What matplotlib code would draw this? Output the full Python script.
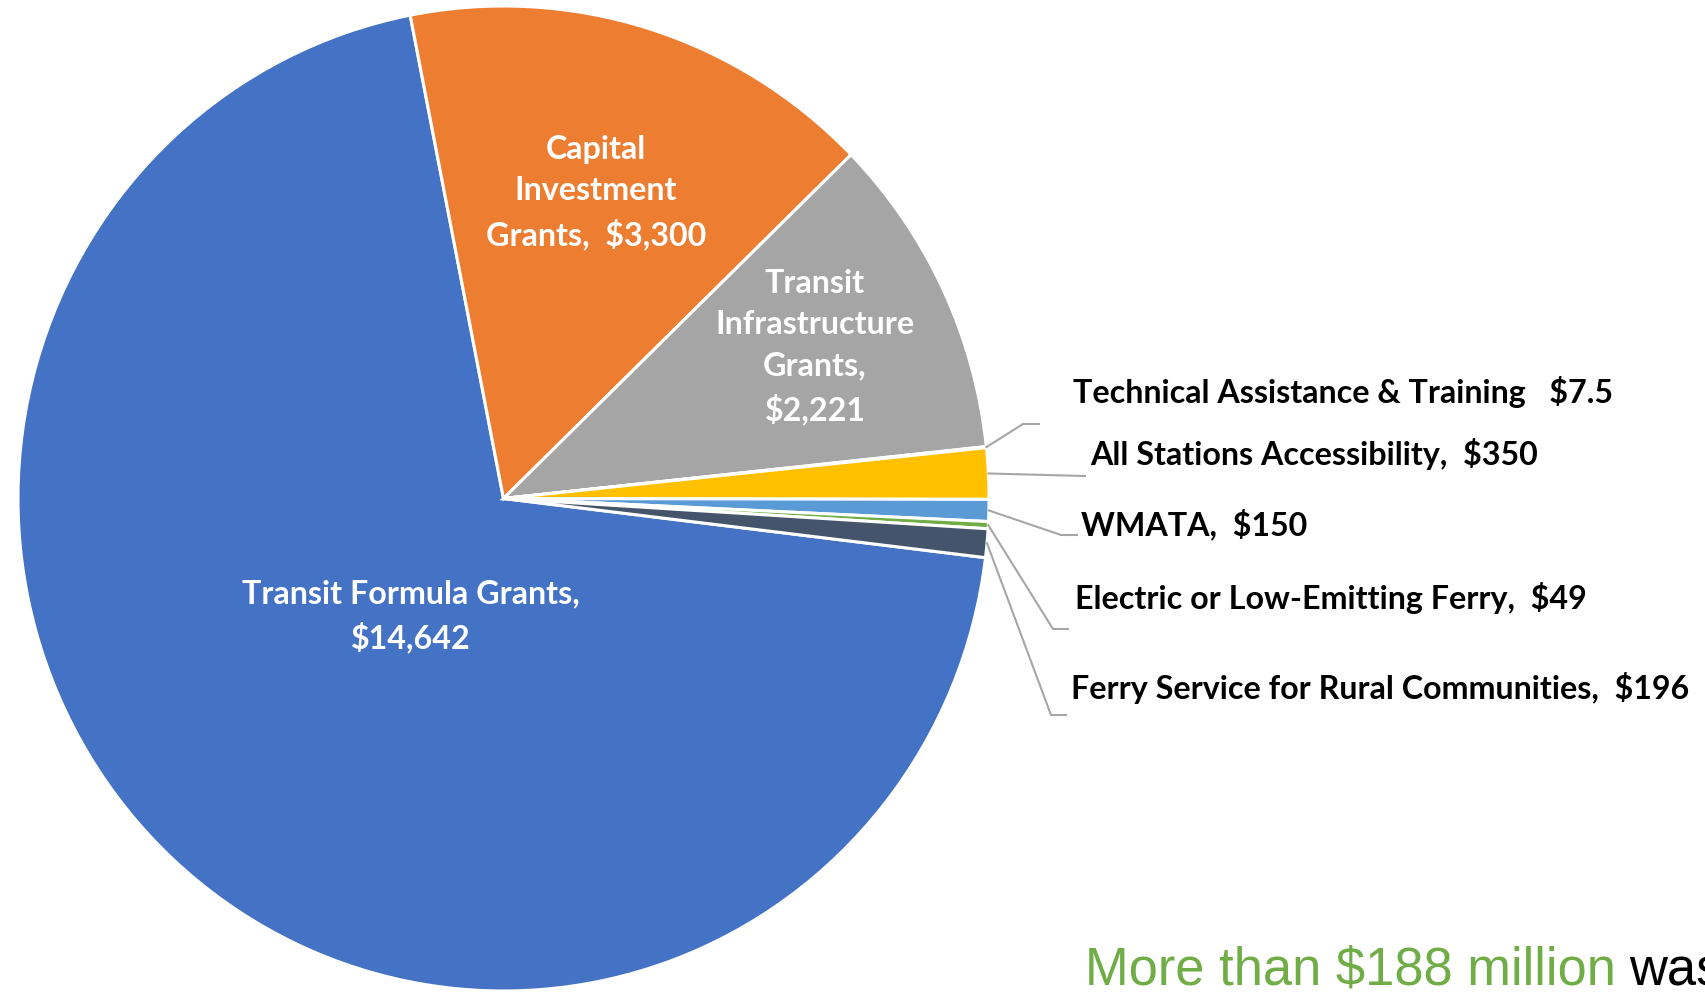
import numpy as np
import matplotlib
matplotlib.use("Agg")
import matplotlib.pyplot as plt
from matplotlib.lines import Line2D

# -------------------- data --------------------
categories = ["Transit Formula Grants", "Capital Investment Grants", "Transit Infrastructure Grants",
              "Technical Assistance & Training", "All Stations Accessibility", "WMATA",
              "Electric or Low-Emitting Ferry", "Ferry Service for Rural Communities"]
values = [14642, 3300, 2221, 7.5, 350, 150, 49, 196]  # $ millions
colors = ["#4472C4", "#ED7D31", "#A5A5A5", "#FFC000", "#FFC000", "#5B9BD5", "#70AD47", "#44546A"]

inside_labels = {
    0: "Transit Formula Grants,\n$14,642",
    1: "Capital\nInvestment\nGrants,  $3,300",
    2: "Transit\nInfrastructure\nGrants,\n$2,221",
}
outside_labels = {
    3: "Technical Assistance & Training   $7.5",
    4: "All Stations Accessibility,  $350",
    5: "WMATA,  $150",
    6: "Electric or Low-Emitting Ferry,  $49",
    7: "Ferry Service for Rural Communities,  $196",
}

# -------------------- layout (pixels from top-left) --------------------
W, H = 1706, 993
inside_pos = {0: (411, 616), 1: (596, 193), 2: (815, 347)}
outside_pos = {3: (1073, 392), 4: (1090, 454), 5: (1081, 524), 6: (1075, 598), 7: (1071, 688)}
leader_bend = {3: [(1023, 424), (1039, 424)], 4: [(1085, 476)], 5: [(1061, 535), (1077, 535)],
               6: [(1053, 629), (1068, 629)], 7: [(1051, 715), (1066, 715)]}

label_font = ["Lato", "DejaVu Sans"]
label_size = 23.2


def fig_frac(x, y):
    return x / W, 1 - y / H


fig = plt.figure(figsize=(W / 100, H / 100), dpi=100)
# pie bounding box in pixels: x 18..989, y 6..991
ax = fig.add_axes([18 / W, (H - 991) / H, 971 / W, 985 / H])
wedges, _ = ax.pie(values, colors=colors, startangle=353.1, counterclock=False,
                   wedgeprops=dict(edgecolor="white", linewidth=2.2))
ax.set_aspect("auto")
ax.set_xlim(-1, 1)
ax.set_ylim(-1, 1)
ax.axis("off")

for i, txt in inside_labels.items():
    x, y = fig_frac(*inside_pos[i])
    fig.text(x, y, txt, color="white", fontsize=label_size, fontweight="bold", family=label_font,
             ha="center", va="center", linespacing=1.5, multialignment="center")

fig.canvas.draw()
inv = fig.transFigure.inverted()
for i, txt in outside_labels.items():
    w = wedges[i]
    mid = np.deg2rad((w.theta1 + w.theta2) / 2)
    sx, sy = inv.transform(ax.transData.transform((np.cos(mid), np.sin(mid))))
    pts = [(sx, sy)] + [fig_frac(*p) for p in leader_bend[i]]
    xs, ys = zip(*pts)
    fig.add_artist(Line2D(xs, ys, transform=fig.transFigure, color="#A6A6A6", linewidth=1.5))
    x, y = fig_frac(*outside_pos[i])
    fig.text(x, y, txt, color="black", fontsize=label_size, fontweight="bold", family=label_font,
             ha="left", va="center")

# footer text, cut at the right edge like the slide
x, y = fig_frac(1085, 985)
fig.text(x, y, "More than $188 million", color="#70AD47", fontsize=37.8,
         family=["Liberation Sans", "DejaVu Sans"], ha="left", va="baseline")
x, y = fig_frac(1629, 985)
fig.text(x, y, "was", color="black", fontsize=37.8,
         family=["Liberation Sans", "DejaVu Sans"], ha="left", va="baseline")

fig.savefig("out.png", dpi=100, facecolor="white")
